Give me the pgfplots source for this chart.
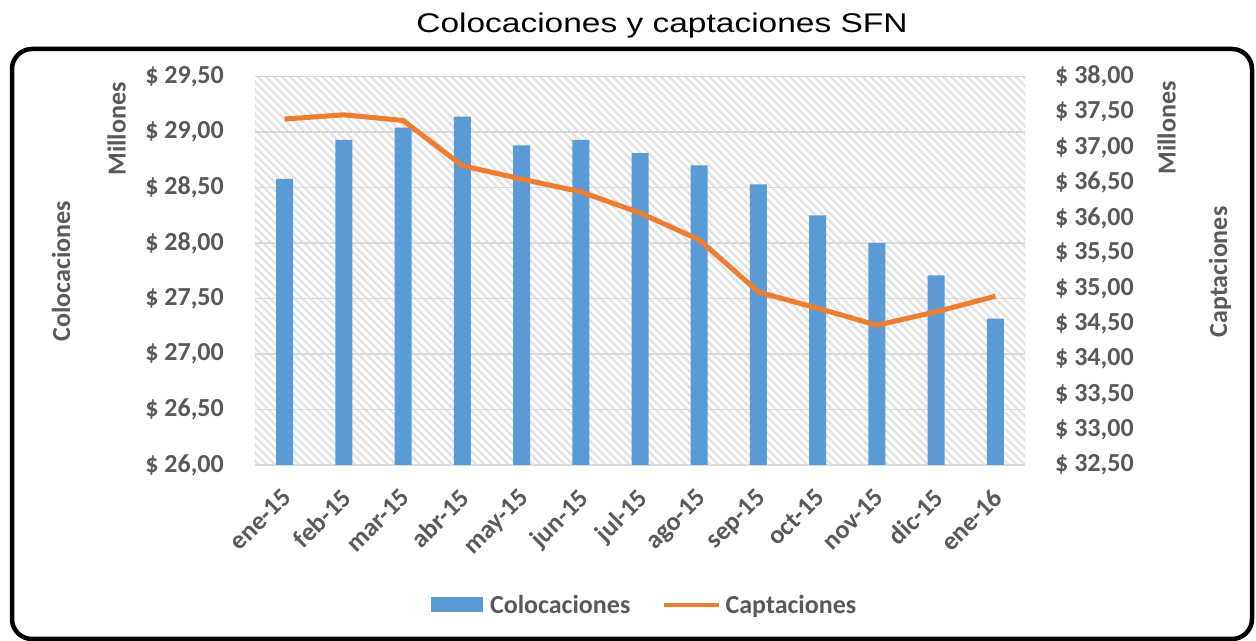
\documentclass[border=0pt]{standalone}
\usepackage{pgfplots}
\pgfplotsset{compat=1.18}
\usepackage{graphicx}
\usepackage{fontspec}
\setmainfont{Carlito}
\newfontfamily\titlefont{Liberation Sans}
\usetikzlibrary{patterns.meta}
\definecolor{barblue}{HTML}{5B9BD5}
\definecolor{lineorange}{HTML}{ED7D31}
\definecolor{gridgray}{HTML}{D9D9D9}
\definecolor{labelgray}{HTML}{595959}
\definecolor{hatchgray}{HTML}{E2E2E2}
\newcommand{\lblfont}{\fontsize{26bp}{30bp}\selectfont\bfseries}
\begin{document}
\begin{tikzpicture}[x=1bp,y=1bp]
\useasboundingbox (0,0) rectangle (1256,641);
\draw[line width=4.5bp, rounded corners=20bp] (12,2) rectangle (1252,592);
\node[anchor=base, inner sep=0pt] at (662,608) {\scalebox{1.24}[1]{\titlefont\fontsize{27bp}{30bp}\selectfont Colocaciones y captaciones SFN}};
\begin{axis}[
  at={(255bp,176bp)}, anchor=south west,
  scale only axis, width=770bp, height=388.3bp,
  xmin=-0.5, xmax=12.5, ymin=26, ymax=29.5,
  ytick={26,26.5,27,27.5,28,28.5,29,29.5},
  xtick={0,1,2,3,4,5,6,7,8,9,10,11,12},
  xticklabels={ene-15,feb-15,mar-15,abr-15,may-15,jun-15,jul-15,ago-15,sep-15,oct-15,nov-15,dic-15,ene-16},
  yticklabel={\$ \pgfmathprintnumber[fixed,fixed zerofill,precision=2,use comma,assume math mode=true]{\tick}},
  tick label style={font=\lblfont, text=labelgray},
  yticklabel style={anchor=east, inner sep=0pt, xshift=-31bp},
  xticklabel style={xshift=-4bp, yshift=-22bp, rotate=45, anchor=north east, inner sep=0pt},
  major tick length=0pt,
  axis x line*=bottom, axis y line*=left,
  x axis line style={draw=gridgray, line width=1.5bp, -},
  y axis line style={draw=none},
  ymajorgrids, grid style={draw=gridgray, line width=1.5bp},
  axis background/.style={pattern={Lines[angle=-45, distance=5.7bp, line width=2.4bp]}, pattern color=hatchgray},
  legend style={at={(0.506,-0.3605)}, anchor=center, draw=none, fill=none,
    font=\lblfont, text=labelgray, legend columns=2,
    /tikz/every even column/.append style={column sep=30bp}},
  legend cell align=left,
]
\addplot[ybar, bar width=17bp, fill=barblue, draw=none,
  legend image code/.code={\fill[barblue] (0bp,-7.5bp) rectangle (52bp,7.5bp); \path (57bp,0bp);}]
  coordinates {(0,28.58) (1,28.93) (2,29.04) (3,29.14) (4,28.88) (5,28.93) (6,28.81) (7,28.70) (8,28.53) (9,28.25) (10,28.00) (11,27.71) (12,27.32)};
\addlegendentry{Colocaciones}
\addlegendimage{legend image code/.code={\draw[lineorange, line width=4bp] (0bp,0bp) -- (55bp,0bp); \path (59bp,0bp);}}
\addlegendentry{Captaciones}
\end{axis}
\begin{axis}[
  at={(255bp,176bp)}, anchor=south west,
  scale only axis, width=770bp, height=388.3bp,
  xmin=-0.5, xmax=12.5, ymin=32.5, ymax=38,
  ytick={32.5,33,33.5,34,34.5,35,35.5,36,36.5,37,37.5,38},
  axis x line=none, axis y line*=right,
  y axis line style={draw=none},
  major tick length=0pt,
  yticklabel={\$ \pgfmathprintnumber[fixed,fixed zerofill,precision=2,use comma,assume math mode=true]{\tick}},
  tick label style={font=\lblfont, text=labelgray},
  yticklabel style={anchor=west, inner sep=0pt, xshift=30bp},
]
\addplot[lineorange, line width=5bp, no marks, line join=round]
  coordinates {(0,37.40) (1,37.46) (2,37.38) (3,36.74) (4,36.55) (5,36.37) (6,36.07) (7,35.69) (8,34.95) (9,34.72) (10,34.48) (11,34.67) (12,34.89)};
\end{axis}
\node[rotate=90, font=\lblfont, text=labelgray] at (61,370) {Colocaciones};
\node[rotate=90, font=\lblfont, text=labelgray] at (116.7,512) {Millones};
\node[rotate=90, font=\lblfont, text=labelgray] at (1166.7,513) {Millones};
\node[rotate=90, font=\lblfont, text=labelgray] at (1220,369) {Captaciones};
\end{tikzpicture}
\end{document}
